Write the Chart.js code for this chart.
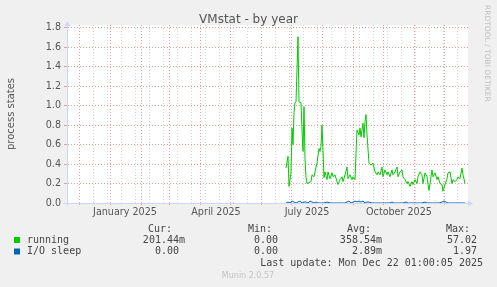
<!DOCTYPE html>
<html>
<head>
<meta charset="utf-8">
<script src="https://cdn.jsdelivr.net/npm/chart.js@4.4.1/dist/chart.umd.min.js"></script>
<style>
  html, body { margin: 0; padding: 0; background: #f0f0f0; }
  canvas { display: block; }
</style>
</head>
<body>
<canvas id="vmstat" width="497" height="287"></canvas>
<script>
// x axis is in days, day 0 = 2024-11-19, last sample 2025-12-22
const axisDays = 401;
const monthStartDays = [12, 43, 74, 102, 133, 163, 194, 224, 255, 286, 316, 347, 377];
const weekGridDays = [12, 26, 40, 54, 68, 82, 96, 110, 124, 138, 152, 166, 180, 194,
  208, 222, 236, 250, 264, 278, 292, 306, 320, 334, 348, 362, 376, 390];
const monthLabelDays = [58, 149, 240, 332];
const monthLabels = ["January 2025", "April 2025", "July 2025", "October 2025"];

const yMax = 1.83;
const yGridValues = [0, 0.1, 0.2, 0.3, 0.4, 0.5, 0.6, 0.7, 0.8, 0.9,
  1.0, 1.1, 1.2, 1.3, 1.4, 1.5, 1.6, 1.7, 1.8];

// running
const runDays = [
  219, 221, 222, 224, 225, 226, 227, 228, 229, 231,
  232, 234, 235, 236, 237, 238, 239, 240, 242, 244,
  245, 247, 249, 250, 252, 253, 254, 255, 257, 258,
  260, 261, 263, 265, 266, 268, 270, 271, 273, 275,
  276, 278, 280, 281, 283, 285, 286, 288, 289, 290,
  292, 293, 294, 296, 297, 298, 299, 300, 302, 304,
  306, 308, 310, 311, 313, 315, 316, 318, 320, 321,
  323, 325, 326, 328, 330, 331, 333, 335, 336, 338,
  340, 341, 343, 345, 346, 348, 350, 351, 353, 355,
  356, 358, 360, 361, 362, 364, 365, 366, 368, 370,
  371, 373, 375, 376, 378, 380, 381, 383, 385, 386,
  388, 390, 391, 393, 395, 396, 398];
const runValues = [
  0.36, 0.48, 0.17, 0.31, 0.77, 0.60, 0.93, 1.03, 1.04, 1.71,
  1.04, 1.03, 0.75, 0.53, 0.99, 0.45, 0.27, 0.20, 0.21, 0.22,
  0.29, 0.27, 0.37, 0.41, 0.56, 0.53, 0.58, 0.80, 0.26, 0.32,
  0.24, 0.32, 0.25, 0.31, 0.27, 0.29, 0.22, 0.19, 0.24, 0.27,
  0.22, 0.29, 0.37, 0.25, 0.29, 0.24, 0.27, 0.24, 0.51, 0.75,
  0.70, 0.77, 0.68, 0.82, 0.67, 0.84, 0.91, 0.70, 0.41, 0.39,
  0.41, 0.32, 0.29, 0.32, 0.29, 0.37, 0.27, 0.34, 0.29, 0.32,
  0.27, 0.34, 0.29, 0.32, 0.37, 0.27, 0.32, 0.34, 0.27, 0.24,
  0.20, 0.22, 0.17, 0.22, 0.19, 0.24, 0.20, 0.27, 0.32, 0.29,
  0.20, 0.31, 0.27, 0.19, 0.13, 0.27, 0.34, 0.27, 0.31, 0.24,
  0.27, 0.20, 0.19, 0.12, 0.19, 0.25, 0.31, 0.32, 0.20, 0.24,
  0.22, 0.24, 0.27, 0.25, 0.36, 0.29, 0.20];

// I/O sleep
const ioDays = [
  219, 221, 223, 225, 227, 229, 231, 233, 235, 237,
  239, 241, 243, 245, 247, 249, 251, 254, 257, 260,
  263, 266, 270, 274, 278, 280, 282, 284, 286, 288,
  290, 292, 294, 296, 298, 300, 302, 305, 309, 313,
  318, 323, 325, 327, 331, 336, 339, 341, 345, 350,
  355, 358, 360, 363, 368, 372, 375, 377, 379, 381,
  386, 392, 398];
const ioValues = [
  0.00, 0.01, 0.00, 0.02, 0.01, 0.00, 0.01, 0.02, 0.00, 0.01,
  0.01, 0.00, 0.02, 0.01, 0.00, 0.01, 0.00, 0.00, 0.00, 0.01,
  0.00, 0.00, 0.00, 0.00, 0.00, 0.01, 0.02, 0.00, 0.01, 0.02,
  0.01, 0.02, 0.01, 0.02, 0.00, 0.01, 0.01, 0.00, 0.00, 0.00,
  0.00, 0.00, 0.01, 0.00, 0.00, 0.00, 0.01, 0.00, 0.00, 0.00,
  0.00, 0.01, 0.00, 0.00, 0.00, 0.00, 0.01, 0.02, 0.01, 0.00,
  0.00, 0.00, 0.00];

const seriesNames = ["running", "I/O sleep"];
const seriesColors = ["#00cc00", "#0066b3"];
const statHeaders = ["Cur:", "Min:", "Avg:", "Max:"];
const statRows = [
  ["201.44m", "0.00 ", "358.54m", "57.02 "],
  ["0.00 ", "0.00 ", "2.89m", "1.97 "]
];
const lastUpdate = "Last update: Mon Dec 22 01:00:05 2025";

const gridMajor = "#e4a0a0";
const gridMinor = "#d6d6d6";
const axisColor = "#cfd6f8";
const textColor = "#555555";

const isMajorY = v => Math.round(v * 10) % 2 === 0;
const monthSet = new Set(monthStartDays);
const weekSet = new Set(weekGridDays);
const labelMap = new Map(monthLabelDays.map((d, i) => [d, monthLabels[i]]));

const munin = {
  id: "munin",
  beforeDraw(chart) {
    const { ctx, chartArea: a } = chart;
    ctx.save();
    ctx.fillStyle = "#f0f0f0";
    ctx.fillRect(0, 0, chart.width, chart.height);
    ctx.fillStyle = "#ffffff";
    ctx.fillRect(a.left, a.top, a.right - a.left, a.bottom - a.top);
    ctx.restore();
  },
  afterDraw(chart) {
    const { ctx, chartArea: a } = chart;
    ctx.save();

    // axis arrows
    ctx.fillStyle = axisColor;
    ctx.beginPath();
    ctx.moveTo(a.left + 0.5, a.top - 4);
    ctx.lineTo(a.left - 2.5, a.top + 1);
    ctx.lineTo(a.left + 3.5, a.top + 1);
    ctx.fill();
    ctx.beginPath();
    ctx.moveTo(a.right + 5, a.bottom + 0.5);
    ctx.lineTo(a.right, a.bottom - 2.5);
    ctx.lineTo(a.right, a.bottom + 3.5);
    ctx.fill();
    ctx.fillRect(a.left - 4, a.bottom, 4, 1);
    ctx.fillRect(a.left, a.bottom, 1, 3);

    // title
    ctx.fillStyle = textColor;
    ctx.font = '12px "DejaVu Sans"';
    ctx.textAlign = "center";
    ctx.textBaseline = "middle";
    ctx.fillText("VMstat - by year", 248.5, 20);

    // legend block
    ctx.font = '10px "DejaVu Sans Mono"';
    ctx.fillStyle = "#444444";
    ctx.textAlign = "right";
    const statRight = [185, 284, 382, 483];
    const headRight = [172, 272, 371, 470];
    statHeaders.forEach((h, i) => ctx.fillText(h, headRight[i], 229));
    seriesNames.forEach((name, r) => {
      const y = 240 + r * 11.5;
      ctx.fillStyle = seriesColors[r];
      ctx.fillRect(14, y - 3, 6, 6);
      ctx.fillStyle = "#444444";
      ctx.textAlign = "left";
      ctx.fillText(name, 27, y);
      ctx.textAlign = "right";
      statRows[r].forEach((s, i) => ctx.fillText(s, statRight[i], y));
    });
    ctx.fillText(lastUpdate, 483, 263.5);

    ctx.textAlign = "center";
    ctx.fillStyle = "#c4c4c4";
    ctx.font = '8px "DejaVu Sans"';
    ctx.fillText("Munin 2.0.57", 248, 276);

    // rrdtool credit
    ctx.translate(487, 5);
    ctx.rotate(Math.PI / 2);
    ctx.textAlign = "left";
    ctx.fillStyle = "#c0c0c0";
    ctx.font = '7.5px "DejaVu Sans"';
    ctx.fillText("RRDTOOL / TOBI OETIKER", 0, 0);
    ctx.restore();
  }
};

new Chart(document.getElementById("vmstat"), {
  type: "line",
  data: {
    datasets: [
      {
        label: seriesNames[0],
        data: runDays.map((d, i) => ({ x: d, y: runValues[i] })),
        borderColor: seriesColors[0],
        borderWidth: 1,
        pointRadius: 0,
        tension: 0,
        fill: false
      },
      {
        label: seriesNames[1],
        data: ioDays.map((d, i) => ({ x: d, y: ioValues[i] })),
        borderColor: seriesColors[1],
        borderWidth: 1,
        pointRadius: 0,
        tension: 0,
        fill: false
      }
    ]
  },
  options: {
    responsive: false,
    animation: false,
    events: [],
    layout: { padding: { top: 25, right: 29, left: 0, bottom: 0 } },
    plugins: { legend: { display: false }, tooltip: { enabled: false }, title: { display: false } },
    scales: {
      x: {
        type: "linear",
        min: 0,
        max: axisDays,
        afterBuildTicks(scale) {
          const all = [...new Set([...weekGridDays, ...monthStartDays, ...monthLabelDays])].sort((p, q) => p - q);
          scale.ticks = all.map(v => ({ value: v }));
        },
        afterFit(scale) { scale.height = 84; },
        ticks: {
          autoSkip: false,
          maxRotation: 0,
          padding: 1,
          color: textColor,
          font: { family: "DejaVu Sans", size: 9.6 },
          callback: v => labelMap.get(v) || ""
        },
        grid: {
          color: c => monthSet.has(c.tick.value) ? gridMajor : weekSet.has(c.tick.value) ? gridMinor : "rgba(0,0,0,0)",
          tickColor: c => monthSet.has(c.tick.value) ? gridMajor : "rgba(0,0,0,0)",
          tickLength: 3,
          tickBorderDash: [1, 2],
          lineWidth: 1
        },
        border: { color: axisColor, dash: c => c.type === "tick" ? [1, 2] : [] }
      },
      y: {
        min: 0,
        max: yMax,
        afterBuildTicks(scale) {
          scale.ticks = yGridValues.map(v => ({ value: v }));
        },
        afterFit(scale) { scale.width = 67; },
        ticks: {
          padding: 3,
          color: textColor,
          font: { family: "DejaVu Sans", size: 9.6 },
          callback: v => isMajorY(v) ? v.toFixed(1) : ""
        },
        grid: {
          color: c => c.tick.value === 0 ? "rgba(0,0,0,0)" : isMajorY(c.tick.value) ? gridMajor : gridMinor,
          tickColor: c => isMajorY(c.tick.value) ? gridMajor : gridMinor,
          tickLength: 3,
          lineWidth: 1
        },
        border: { color: axisColor, dash: c => c.type === "tick" ? [1, 2] : [] },
        title: {
          display: true,
          text: "process states",
          color: textColor,
          font: { family: "DejaVu Sans", size: 10 },
          padding: { top: 5, bottom: 0 }
        }
      }
    }
  },
  plugins: [munin]
});
</script>
</body>
</html>
